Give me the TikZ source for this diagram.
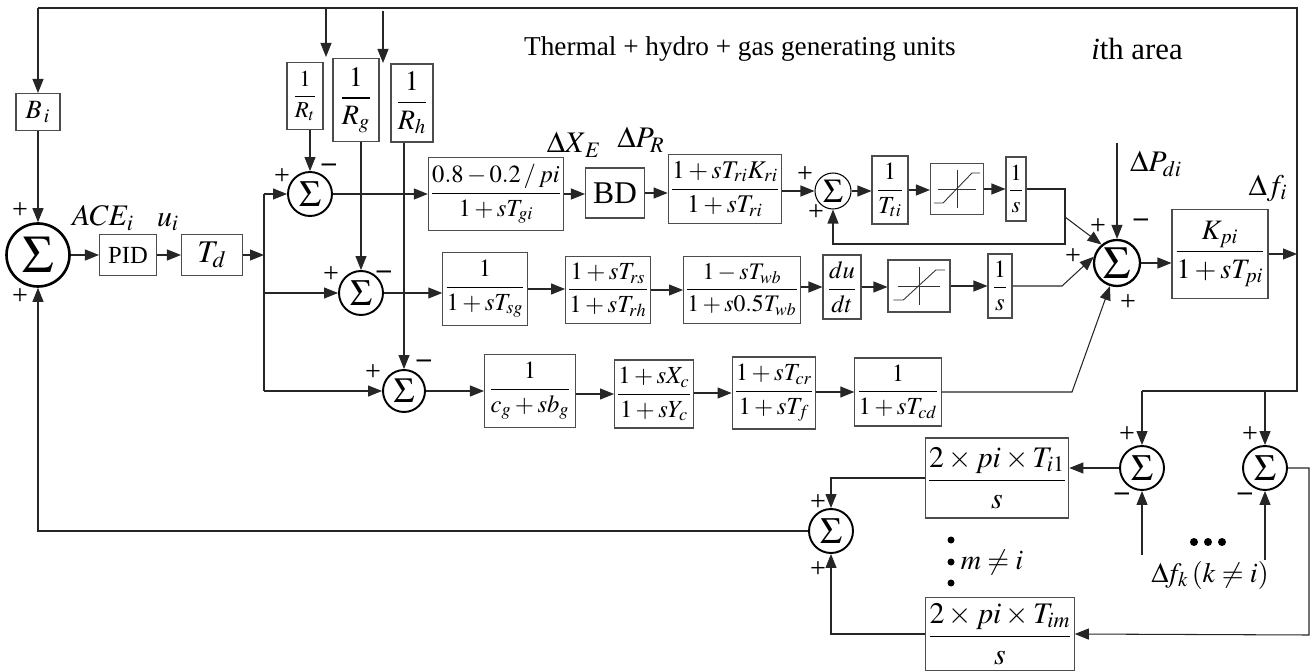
\documentclass[tikz,border=0pt]{standalone}
\usepackage{amsmath}
\usepackage{mathptmx}
\usepackage{fontspec}
\setmainfont{Liberation Serif}
\usetikzlibrary{arrows.meta,positioning,calc}

% saturation symbol drawn inside an empty box
\newcommand{\satsym}[2]{%
  \draw[line width=0.5pt, black!80, shift={(#1.center)}, xscale=#2] (-19,0) -- (19,0) (0,-19) -- (0,19);
  \draw[line width=0.5pt, black!80, shift={(#1.center)}, xscale=#2] (-23,14) -- (-14,14) -- (15,-16) -- (23,-16);}

\begin{document}
\begin{tikzpicture}[x=0.02cm, y=-0.02cm,
    blk/.style={rectangle, draw=black!70, line width=0.6pt, inner sep=1pt, align=center},
    sumc/.style={circle, draw=black, line width=1.1pt, inner sep=0pt, minimum size=0.88cm},
    arr/.style={-{Triangle[length=2.8mm,width=2.2mm]}, line width=0.6pt, black!85},
    lne/.style={line width=0.6pt, black!85},
    fs/.style={font=\fontsize{#1}{#1}\selectfont},
    sgn/.style={inner sep=0pt, font=\fontsize{16}{16}\selectfont},
    mns/.style={inner sep=0pt, font=\fontsize{16}{16}\selectfont\bfseries},
    lab/.style={inner sep=0pt, font=\fontsize{16}{16}\selectfont}
]
\useasboundingbox (0,0) rectangle (1312,672);

% titles
\node[anchor=base, fs=15.5] (ttl) at (740,56) {Thermal + hydro + gas generating units};
\node[anchor=base, fs=17.5] (area) at (1137,60) {\textit{i}th area};

% control part
\node[blk, minimum width=0.88cm, minimum height=0.74cm, fs=15] (bi) at (38,112) {$B_{\,i}$};
\node[sumc, minimum size=1.26cm, line width=1.5pt, fs=30] (sigi) at (38,255) {$\Sigma$};
\node[blk, minimum width=1.14cm, minimum height=0.82cm, fs=14] (pid) at (128,255) {PID};
\node[blk, minimum width=1.22cm, minimum height=0.82cm, fs=18] (td) at (212,255) {$T_d$};
\node[lab, fs=17] (ace) at (103,218) {$ACE_i$};
\node[lab, fs=17] (ui) at (168,222) {$u_i$};

% droop gains
\node[blk, minimum width=0.72cm, minimum height=1.34cm, fs=13] (rt) at (305,96) {$\dfrac{1}{R_t}$};
\node[blk, minimum width=0.92cm, minimum height=1.66cm, fs=16] (rg) at (356,100) {$\dfrac{1}{R_g}$};
\node[blk, minimum width=0.84cm, minimum height=1.56cm, fs=16] (rh) at (412,103) {$\dfrac{1}{R_h}$};

% summing points of the three units
\node[sumc, fs=21] (s1) at (310,194) {$\Sigma$};
\node[sumc, fs=21] (s2) at (361,293) {$\Sigma$};
\node[sumc, minimum size=0.84cm, fs=20] (s3) at (404,391) {$\Sigma$};

% thermal unit
\node[blk, minimum width=2.52cm, minimum height=1.46cm, fs=14] (gen) at (496,194) {$\dfrac{0.8-0.2\,/\,pi}{1+sT_{gi}}$};
\node[blk, minimum width=1.18cm, minimum height=1.0cm, fs=18] (bd) at (615,193) {BD};
\node[blk, minimum width=2.18cm, minimum height=1.38cm, fs=14.5] (kri) at (725,189) {$\dfrac{1+sT_{ri}K_{ri}}{1+sT_{ri}}$};
\node[sumc, minimum size=0.72cm, line width=0.6pt, fs=19] (ss) at (833,191) {$\Sigma$};
\node[blk, minimum width=0.72cm, minimum height=1.36cm, fs=14] (tti) at (890,190) {$\dfrac{1}{T_{ti}}$};
\node[blk, minimum width=1.06cm, minimum height=1.02cm] (sat1) at (957,189) {};
\node[blk, minimum width=0.4cm, minimum height=1.28cm, fs=13] (int1) at (1016,189) {$\dfrac{1}{s}$};
\node[lab, fs=17] (dxe) at (574,145) {$\Delta X_{\,E}$};
\node[lab, fs=17] (dpr) at (641,140) {$\Delta P_R$};

% hydro unit
\node[blk, minimum width=1.66cm, minimum height=1.46cm, fs=14] (tsg) at (485,289) {$\dfrac{1}{1+sT_{sg}}$};
\node[blk, minimum width=1.64cm, minimum height=1.34cm, fs=14] (trs) at (608,290) {$\dfrac{1+sT_{rs}}{1+sT_{rh}}$};
\node[blk, minimum width=2.28cm, minimum height=1.34cm, fs=13.5] (twb) at (742,290) {$\dfrac{1-sT_{wb}}{1+s0.5T_{wb}}$};
\node[blk, minimum width=0.76cm, minimum height=1.28cm, fs=14] (dudt) at (842,287) {$\dfrac{du}{dt}$};
\node[blk, minimum width=1.24cm, minimum height=1.04cm] (sat2) at (919,286) {};
\node[blk, minimum width=0.48cm, minimum height=1.28cm, fs=14] (int2) at (1000,286) {$\dfrac{1}{s}$};

% gas unit
\node[blk, minimum width=1.82cm, minimum height=1.46cm, fs=14] (cg) at (530,391) {$\dfrac{1}{c_g+sb_g}$};
\node[blk, minimum width=1.56cm, minimum height=1.36cm, fs=14] (xc) at (654,394) {$\dfrac{1+sX_c}{1+sY_c}$};
\node[blk, minimum width=1.6cm, minimum height=1.44cm, fs=14] (tcr) at (774,393) {$\dfrac{1+sT_{cr}}{1+sT_f}$};
\node[blk, minimum width=1.66cm, minimum height=1.36cm, fs=14] (tcd) at (898,392) {$\dfrac{1}{1+sT_{cd}}$};

% power system
\node[sumc, minimum size=0.92cm, line width=1.3pt, fs=26] (ms) at (1117,263) {$\Sigma$};
\node[blk, minimum width=1.92cm, minimum height=1.78cm, fs=16] (kpi) at (1220,254) {$\dfrac{K_{pi}}{1+sT_{pi}}$};
\node[lab, fs=17] (dpd) at (1156,164) {$\Delta P_{di}$};
\node[lab, fs=17] (dfi) at (1268,188) {$\Delta f_i$};

% tie lines
\node[sumc, fs=21] (sa) at (1142,468) {$\Sigma$};
\node[sumc, fs=21] (sb) at (1265,468) {$\Sigma$};
\node[sumc, fs=21] (sc) at (831,531) {$\Sigma$};
\node[blk, minimum width=2.36cm, minimum height=1.6cm, fs=17] (ti1) at (997,478) {$\dfrac{2\times pi\times T_{i1}}{s}$};
\node[blk, minimum width=2.64cm, minimum height=1.46cm, fs=17] (tim) at (1000,634) {$\dfrac{2\times pi\times T_{im}}{s}$};
\node[lab, fs=16] (mne) at (992,562) {$m\neq i$};
\node[lab, fs=16] (dfk) at (1210,575) {$\Delta\!f_k\,(k\neq i)$};

% signs
\node[sgn] (p0a) at (20,211) {+};
\node[sgn] (p0b) at (20,297) {+};
\node[sgn] (p1) at (282,177) {+};
\node[mns] (m1) at (329,168) {–};
\node[sgn] (p2) at (331,275) {+};
\node[mns] (m2) at (384,275) {–};
\node[sgn] (p3) at (373,373) {+};
\node[mns] (m3) at (424,364) {–};
\node[sgn] (p4a) at (805,175) {+};
\node[sgn] (p4b) at (816,213) {+};
\node[sgn] (p5a) at (1098,227) {+};
\node[mns] (m5) at (1141,223) {–};
\node[sgn] (p5b) at (1073,257) {+};
\node[sgn] (p5c) at (1128,303) {+};
\node[sgn] (p6a) at (1127,435) {+};
\node[mns] (m6a) at (1122,497) {–};
\node[sgn] (p6b) at (1250,435) {+};
\node[mns] (m6b) at (1245,497) {–};
\node[sgn] (p7a) at (818,503) {+};
\node[sgn] (p7b) at (818,570) {+};

\satsym{sat1}{1}
\satsym{sat2}{1.12}

% helper points
\coordinate (tl) at (38,8);
\coordinate (tr) at (1297,8);
\coordinate (br) at (1297,391);
\coordinate (ja) at (1142,391);
\coordinate (jb) at (1265,391);
\coordinate (rtsrc) at (326,8);
\coordinate (rtin) at (326,57);
\coordinate (rgsrc) at (383,11);
\coordinate (rgin) at (383,63);
\coordinate (bus0) at (264,255);
\coordinate (bus1) at (264,194);
\coordinate (bus3) at (264,391);
\coordinate (k1) at (1065,244);
\coordinate (d1) at (1065,217);
\coordinate (d2) at (1062,286);
\coordinate (d3) at (1072,392);
\coordinate (pd) at (1117,143);
\coordinate (rr) at (1309,635);
\coordinate (fa) at (1142,555);
\coordinate (fb) at (1265,560);

% feedback of frequency
\draw[lne] (tl) -- (tr) -- (br) -- (ja);
\draw[arr] (tl) -- (bi.north);
\draw[arr] (bi.south) -- (sigi.north);
\draw[arr] (rtsrc) -- (rtin);
\draw[arr] (rgsrc) -- (rgin);
\draw[arr] (sigi.east) -- (pid.west);
\draw[arr] (pid.east) -- (td.west);
\draw[arr] (td.east) -- (bus0);
\draw[lne] (bus1) -- (bus3);
\draw[arr] (bus1) -- (s1.west);
\draw[arr] (bus1 |- s2.west) -- (s2.west);
\draw[arr] (bus3) -- (s3.west);
\draw[arr] (s1.north |- rt.south) -- (s1.north);
\draw[arr] (s2.north |- rg.south) -- (s2.north);
\draw[arr] (s3.north |- rh.south) -- (s3.north);

% thermal chain
\draw[arr] (s1.east) -- (s1.east -| gen.west);
\draw[arr] (gen.east) -- (gen.east -| bd.west);
\draw[arr] (bd.east) -- (bd.east -| kri.west);
\draw[arr] (kri.east |- ss.west) -- (ss.west);
\draw[arr] (ss.east) -- (ss.east -| tti.west);
\draw[arr] (tti.east) -- (tti.east -| sat1.west);
\draw[arr] (sat1.east) -- (sat1.east -| int1.west);
\draw[arr] (int1.east) -| (k1) -| (ss.south);
\draw[arr] (d1) -- (ms.130);

% hydro chain
\draw[arr] (s2.east) -- (s2.east -| tsg.west);
\draw[arr] (tsg.east) -- (tsg.east -| trs.west);
\draw[arr] (trs.east) -- (trs.east -| twb.west);
\draw[arr] (twb.east |- dudt.west) -- (dudt.west);
\draw[arr] (dudt.east) -- (dudt.east -| sat2.west);
\draw[arr] (sat2.east) -- (sat2.east -| int2.west);
\draw[arr] (int2.east) -- (d2) -- (ms.165);

% gas chain
\draw[arr] (s3.east) -- (s3.east -| cg.west);
\draw[arr] (cg.east |- xc.west) -- (xc.west);
\draw[arr] (xc.east |- tcr.west) -- (tcr.west);
\draw[arr] (tcr.east |- tcd.west) -- (tcd.west);
\draw[arr] (tcd.east) -- (d3) -- (ms.253);

% load and output
\draw[arr] (pd) -- (ms.north);
\draw[arr] (ms.east) -- (ms.east -| kpi.west);
\draw[arr] (kpi.east) -- (kpi.east -| tr);

% tie-line power
\draw[arr] (ja) -- (sa.north);
\draw[arr] (jb) -- (sb.north);
\draw[arr] (fa) -- (sa.south);
\draw[arr] (fb) -- (sb.south);
\draw[arr] (sa.west) -- (sa.west -| ti1.east);
\draw[arr] (sb.east) -| (rr) -- (tim.east);
\draw[arr] (ti1.west) -| (sc.north);
\draw[arr] (tim.west) -| (sc.south);
\draw[arr] (sc.west) -| (sigi.south);

% dots
\fill (951,540) circle (0.07cm) (951,562) circle (0.07cm) (951,583) circle (0.07cm);
\fill (1194,542) circle (0.08cm) (1208,542) circle (0.08cm) (1222,542) circle (0.08cm);
\end{tikzpicture}
\end{document}
